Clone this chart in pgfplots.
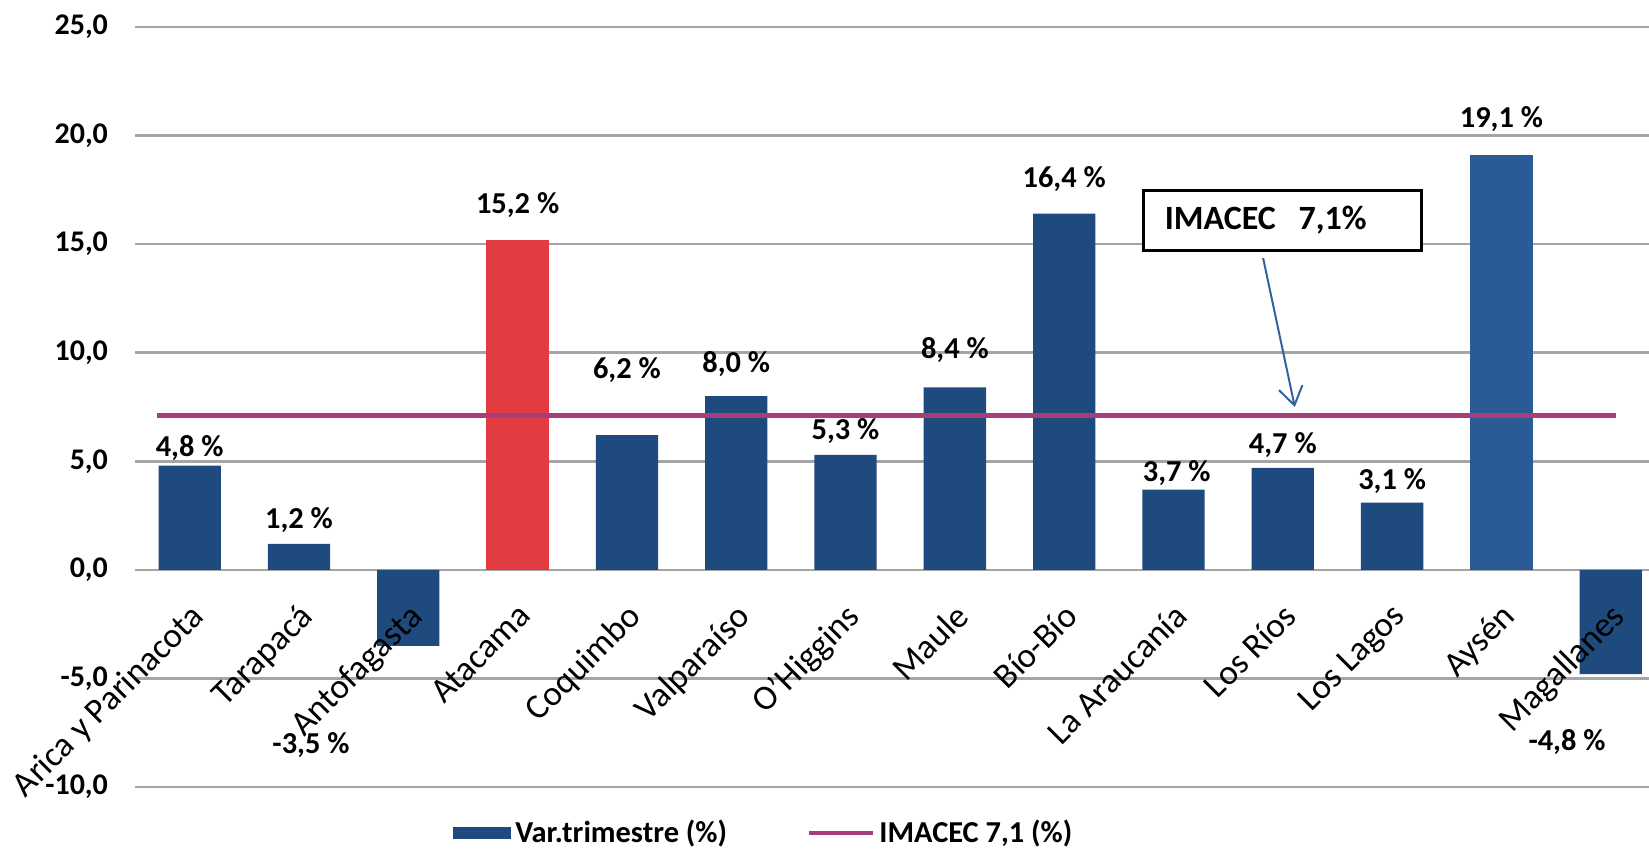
\documentclass[border=0pt]{standalone}
\usepackage{fontspec}
\setmainfont{Carlito}
\usepackage{pgfplots}
\usepackage{pgfplotstable}
\pgfplotsset{compat=1.18}
\usetikzlibrary{arrows.meta}
\definecolor{barblue}{RGB}{31,74,126}
\definecolor{aysenblue}{RGB}{42,91,151}
\definecolor{atared}{RGB}{226,59,65}
\definecolor{imacec}{RGB}{165,62,122}
\definecolor{arrowblue}{RGB}{52,98,160}
\definecolor{gridgray}{RGB}{165,165,165}

\pgfplotstableread{
x y
0 4.8
1 1.2
2 -3.5
4 6.2
5 8.0
6 5.3
7 8.4
8 16.4
9 3.7
10 4.7
11 3.1
13 -4.8
}\mainbars

\pgfplotstableread{
x y
3 15.2
}\atacama

\pgfplotstableread{
x y
12 19.1
}\aysen

\pgfplotstableread{
x y label
0 5.6 {4,8 \%}
1 2.3 {1,2 \%}
1.11 -8.07 {-3,5 \%}
3 16.8 {15,2 \%}
4 9.2 {6,2 \%}
5 9.5 {8,0 \%}
6 6.4 {5,3 \%}
7 10.1 {8,4 \%}
8 18.0 {16,4 \%}
9.03 4.45 {3,7 \%}
10 5.75 {4,7 \%}
11 4.1 {3,1 \%}
12 20.75 {19,1 \%}
12.6 -7.93 {-4,8 \%}
}\vlabels

\begin{document}
\begin{tikzpicture}
\useasboundingbox (-67.5pt,-32.5pt) rectangle (757pt,393.5pt);
\begin{axis}[
  axis on top,
  scale only axis, width=757pt, height=380pt,
  xmin=-0.5, xmax=13.35, ymin=-10, ymax=25,
  ytick={-10,-5,...,25},
  xtick={0,...,13},
  xticklabels={Arica y Parinacota, Tarapacá, Antofagasta, Atacama, Coquimbo, Valparaíso, O'Higgins, Maule, Bío-Bío, La Araucanía, Los Ríos, Los Lagos, Aysén, Magallanes},
  axis line style={draw=none},
  major tick length=0pt,
  yticklabel style={font=\bfseries\fontsize{15}{18}\selectfont, xshift=-10pt},
  /pgf/number format/.cd, fixed, fixed zerofill, precision=1, use comma, assume math mode=true,
  /pgfplots/.cd,
  xticklabel style={font=\fontsize{17.5}{20}\selectfont, inner sep=0pt, anchor=north east, xshift=-0.7pt, yshift=93pt, rotate=45},
  clip=false,
  legend style={draw=none, fill=none, at={(0.21,-0.0605)}, anchor=west, inner sep=0pt,
    nodes={inner xsep=2pt, inner ysep=0pt},
    font=\bfseries\fontsize{15.2}{18}\selectfont, legend columns=2,
    /tikz/every even column/.append style={column sep=38pt}},
]
\pgfplotsinvokeforeach{-10,-5,0,5,10,15,20,25}{
  \draw[gridgray, line width=1.3pt] (axis cs:-0.5,#1) -- (axis cs:13.35,#1);
}
\addplot[ybar, bar width=0.57, bar shift=0pt, fill=barblue, draw=none,
  legend image code/.code={\fill[barblue] (0pt,-3.2pt) rectangle (29pt,3.2pt);}]
  table[x=x,y=y] {\mainbars};
\addlegendentry{Var.trimestre (\%)}
\addplot[ybar, bar width=0.57, bar shift=0pt, fill=atared, draw=none, forget plot]
  table[x=x,y=y] {\atacama};
\addplot[ybar, bar width=0.57, bar shift=0pt, fill=aysenblue, draw=none, forget plot]
  table[x=x,y=y] {\aysen};
\addplot[imacec, line width=2.2pt, mark=none,
  legend image code/.code={\draw[imacec, line width=2.2pt] (0pt,0pt) -- (32pt,0pt);}]
  coordinates {(-0.3,7.1) (13.05,7.1)};
\addlegendentry{IMACEC 7,1 (\%)}
\addplot[only marks, mark=none, forget plot, nodes near coords, point meta=explicit symbolic,
  nodes near coords style={anchor=center, font=\bfseries\fontsize{15.2}{18}\selectfont, text=black}]
  table[x=x, y=y, meta=label] {\vlabels};
\draw[arrowblue, line width=1pt, -{Straight Barb[length=9pt,width=12pt]}] (axis cs:9.82,14.36) -- (axis cs:10.11,7.5);
\node[draw=black, line width=1.5pt, fill=white, minimum width=139pt, minimum height=30pt,
  text width=118pt, align=left, inner xsep=10.5pt, font=\bfseries\fontsize{17}{20}\selectfont]
  at (axis cs:10.0,16.1) {IMACEC\ \ 7,1\%};
\end{axis}
\end{tikzpicture}
\end{document}
